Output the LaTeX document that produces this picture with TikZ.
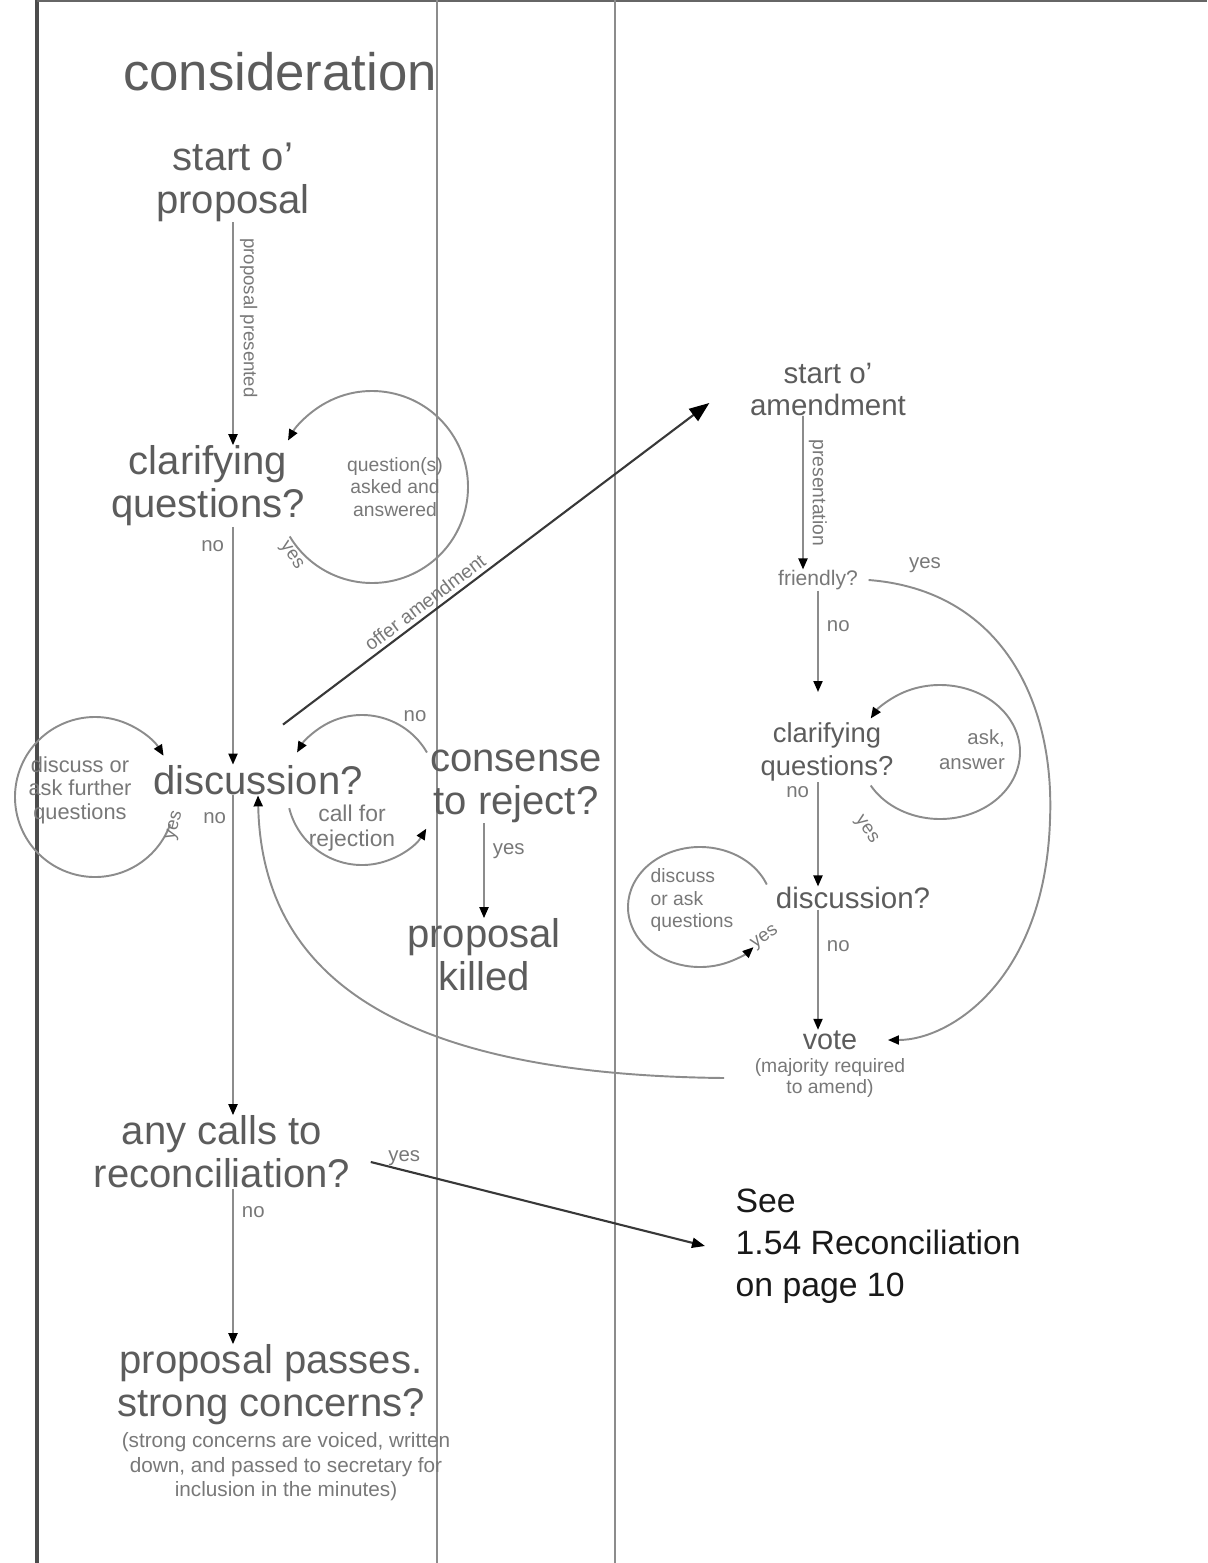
\documentclass[tikz,border=0pt]{standalone}
\usepackage{fontspec}
\setmainfont{Liberation Sans}
\usetikzlibrary{arrows.meta,calc}
\definecolor{textgray}{gray}{0.36}
\definecolor{labelgray}{gray}{0.47}
\definecolor{linegray}{gray}{0.55}
\definecolor{darkline}{gray}{0.22}
\tikzset{
	bigtext/.style = {font = \fontsize{11.4pt}{12.2pt}\selectfont, text = textgray, align = center, inner sep = 0pt},
	midtext/.style = {font = \fontsize{8.4pt}{9.1pt}\selectfont, text = textgray, align = center, inner sep = 0pt},
	lbl/.style = {font = \fontsize{5.8pt}{7pt}\selectfont, text = labelgray, align = center, inner sep = 0pt},
	conn/.style = {draw = linegray, line width = 0.55pt, -{Triangle[length = 1.1mm, width = 0.9mm, color = black]}},
	bigconn/.style = {draw = darkline, line width = 0.6pt, -{Triangle[length = 2mm, width = 1.5mm, color = black]}},
	divider/.style = {draw = linegray, line width = 0.45pt}
}

\begin{document}
\begin{tikzpicture} [x = 0.1mm, y = -0.1mm]
	\useasboundingbox (0,0) rectangle (1207,1563);
	% columns
	\draw [line width = 0.9pt, draw = black!70] (37,0) -- (37,1563);
	\draw [line width = 0.6pt, draw = black!60] (37,1) -- (1207,1);
	\draw [divider] (437,0) -- (437,1563);
	\draw [divider] (615,0) -- (615,1563);
	% consideration
	\node [font = \fontsize{15pt}{18pt}\selectfont, text = textgray, inner sep = 0pt] (title) at (280,72) {consideration};
	\node [bigtext] (sp) at (233,182) {start o'\\proposal};
	\node [bigtext] (cq) at (208,486) {clarifying\\questions?};
	\node [bigtext] (disc) at (258,780) {discussion?};
	\node [bigtext] (rej) at (516,786) {consense\\to reject?};
	\node [bigtext] (killed) at (484,955) {proposal\\killed};
	\node [bigtext] (recon) at (222,1152) {any calls to\\reconciliation?};
	\node [bigtext] (passes) at (271,1385) {proposal passes.\\strong concerns?};
	\node [lbl, font = \fontsize{5.9pt}{7pt}\selectfont] (concerns) at (286,1467) {(strong concerns are voiced, written\\down, and passed to secretary for\\inclusion in the minutes)};
	\node [bigtext, text = black!90, align = left, anchor = west, font = \fontsize{9.6pt}{11.9pt}\selectfont] (see) at (735,1246) {See\\1.54 Reconciliation\\on page 10};
	% amendment
	\node [midtext] (sa) at (828,389) {start o'\\amendment};
	\node [lbl, font = \fontsize{6pt}{7pt}\selectfont] (fr) at (818,580) {friendly?};
	\node [midtext, font = \fontsize{7.8pt}{9.4pt}\selectfont] (cq2) at (827,752) {clarifying\\questions?};
	\node [midtext] (disc2) at (853,898) {discussion?};
	\node [midtext, font = \fontsize{8.2pt}{9pt}\selectfont] (vote) at (830,1040) {vote};
	\node [lbl, font = \fontsize{5.5pt}{5.9pt}\selectfont] (votenote) at (830,1078) {(majority required\\to amend)};
	% loop texts
	\node [lbl, font = \fontsize{5.5pt}{6.4pt}\selectfont] (asked) at (395,487) {question(s)\\asked and\\answered};
	\node [lbl, font = \fontsize{6.2pt}{6.7pt}\selectfont] (further) at (80,790) {discuss or\\ask further\\questions};
	\node [lbl, font = \fontsize{6.5pt}{7.1pt}\selectfont] (callrej) at (352,828) {call for\\rejection};
	\node [lbl, align = right] (askans) at (972,750) {ask,\\answer};
	\node [lbl, align = left, font = \fontsize{5.5pt}{6.3pt}\selectfont] (discq) at (692,900) {discuss\\or ask\\questions};
	% proposal connectors
	\draw [conn] (sp.south) -- (sp.south |- cq.north) node [lbl, pos = 0.43, rotate = -90, anchor = south, inner sep = 0.6mm, font = \fontsize{5.3pt}{6pt}\selectfont] (presented) {proposal presented};
	\draw [conn] (cq.south -| sp.south) -- (disc.north -| sp.south) node [lbl, pos = 0.08, left = 0.8mm] (cqno) {no};
	\draw [conn] (disc.south -| sp.south) -- (recon.north -| sp.south) node [lbl, pos = 0.07, left = 0.6mm] (discno) {no};
	\draw [conn] (recon.south -| sp.south) -- (passes.north -| sp.south) node [lbl, pos = 0.15, right = 0.8mm] (reconno) {no};
	\draw [conn] (killed.north |- rej.south) -- (killed.north) node [lbl, pos = 0.3, right = 0.8mm] (rejyes) {yes};
	\draw [bigconn] ([xshift = 2.5mm, yshift = 4mm]disc.north) -- ([xshift = -4mm, yshift = -1.4mm]sa.west) node [lbl, pos = 0.35, sloped, above = 0.4mm, font = \fontsize{5.5pt}{6pt}\selectfont] (offer) {offer amendment};
	\draw [bigconn, -{Triangle[length = 1.3mm, width = 1mm, color = black]}] ([xshift = 2mm, yshift = -1mm]recon.east) -- ([xshift = -3mm]see.west) node [lbl, pos = 0.1, above = 0.4mm] (reconyes) {yes};
	% loops
	\coordinate (qloop) at (372,487);
	\draw [conn] (qloop) ++(149:96) arc (149:-151:96);
	\node [lbl, rotate = -55, font = \fontsize{5.3pt}{6pt}\selectfont] (cqyes) at (291,556) {yes};
	\coordinate (dloop) at (95,797);
	\draw [conn] (dloop) ++(20:80) arc (20:329:80);
	\node [lbl, rotate = 75, font = \fontsize{5.3pt}{6pt}\selectfont] (discyes) at (175,826) {yes};
	\coordinate (rloop) at (362,790);
	\draw [conn] (rloop) ++(-30:75) arc (-30:-150:75);
	\draw [conn] (rloop) ++(166:75) arc (166:31:75);
	\node [lbl] (rejno) at (415,716) {no};
	\coordinate (qloop2) at (940,752);
	\draw [conn] (qloop2) ++(150:80 and 67) arc (150:-150:80 and 67);
	\node [lbl, rotate = -55, font = \fontsize{5.3pt}{6pt}\selectfont] (cq2yes) at (866,830) {yes};
	\coordinate (dloop2) at (700,907);
	\draw [conn] (dloop2) ++(-22:72 and 60) arc (-22:-318:72 and 60);
	\node [lbl, rotate = 35, font = \fontsize{5.3pt}{6pt}\selectfont] (disc2yes) at (765,938) {yes};
	% amendment connectors
	\draw [conn] ([xshift = -2.5mm]sa.south) -- ([xshift = -1.5mm]fr.north) node [lbl, midway, rotate = -90, anchor = south, inner sep = 0.5mm, font = \fontsize{5.5pt}{6pt}\selectfont] (presentation) {presentation};
	\draw [conn] (fr.south) -- ($(fr.south |- cq2.north)+(0,-30)$) node [lbl, pos = 0.35, right = 0.8mm] (frno) {no};
	\draw [conn] (cq2.south -| fr.south) -- (disc2.north -| fr.south) node [lbl, pos = 0.1, left = 0.8mm] (cq2no) {no};
	\draw [conn] (disc2.south -| fr.south) -- (vote.north -| fr.south) node [lbl, pos = 0.3, right = 0.8mm] (disc2no) {no};
	\draw [conn] ([xshift = 1mm]fr.east) .. controls (1000,590) and (1055,700) .. (1050,820) .. controls (1045,980) and (950,1040) .. ([xshift = 3mm]vote.east);
	\node [lbl] (fryes) at (925,565) {yes};
	\draw [conn] ([xshift = -3mm]votenote.west) .. controls (420,1075) and (262,990) .. (disc.south);
\end{tikzpicture}
\end{document}
